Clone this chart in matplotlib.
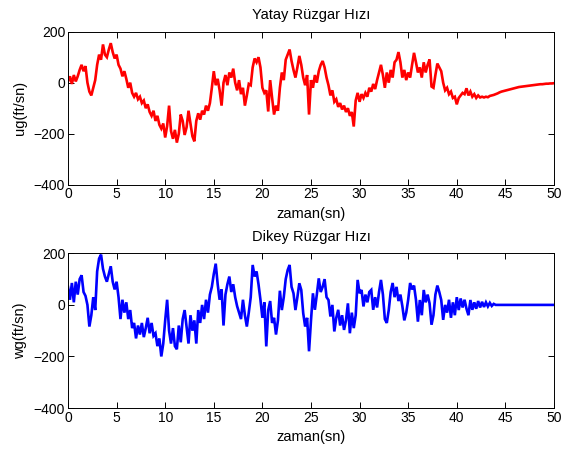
import numpy as np
import matplotlib.pyplot as plt

plt.rcParams['font.family'] = ['Liberation Sans', 'DejaVu Sans']

# wind speed samples every 0.2 s, 0..50 s
dt = 0.2

ug = [5, 25, -5, 30, 5, 25, 50, 70, 45, 65,
      0, -35, -50, -20, 10, 70, 110, 90, 150, 110,
      100, 130, 155, 120, 95, 110, 70, 55, 25, 45,
      15, -20, 0, -40, -55, -40, -65, -55, -80, -70,
      -100, -85, -115, -130, -110, -150, -130, -165, -180, -160,
      -215, -170, -90, -190, -220, -185, -235, -200, -125, -150,
      -205, -175, -110, -160, -210, -230, -150, -120, -145, -110,
      -125, -90, -110, -80, -20, 45, -10, 15, -30, -90,
      0, 30, -10, 40, 20, 55, 0, -30, 10, -45,
      -20, -90, -50, -5, -10, 60, 95, 80, 100, 60,
      -20, -40, -30, -113, 10, -60, -125, -90, -110, -20,
      40, 10, 90, 110, 130, 85, 50, 20, 60, 105,
      70, 20, -10, 30, -125, 10, -20, 30, 0, 45,
      70, 85, 60, 20, -10, -50, -30, -75, -65, -95,
      -80, -105, -90, -115, -100, -130, -115, -172, -70, -40,
      -75, -45, -60, -40, -55, -20, -35, -5, -25, 10,
      40, 70, 30, -20, 40, 0, 50, 20, 80, 90,
      120, 80, 20, 50, 10, 40, 20, 70, 117, 80,
      40, 60, 20, 80, 40, 70, 91, -15, -20, 30,
      75, 60, 45, 0, -30, -20, -45, -35, -60, -55,
      -85, -60, -50, -40, -45, -22, -50, -35, -55, -45,
      -60, -50, -58, -55, -58, -55, -57, -52, -50, -48,
      -45, -42, -38, -35, -33, -31, -29, -27, -25, -23,
      -21, -19, -17, -16, -15, -14, -13, -12, -11, -10,
      -9, -8, -7, -6, -6, -5, -4, -4, -3, -3,
      -2]

wg = [70, 20, 85, 10, 90, 40, 100, 115, 50, 35,
      0, -84, -40, 30, -20, 130, 180, 195, 140, 110,
      90, 120, 150, 90, 60, 90, 30, -55, 20, -30,
      10, -55, -20, -90, -70, -130, -80, -115, -70, -125,
      -90, -50, -110, -70, -120, -110, -160, -130, -200, -150,
      -60, 20, -100, -150, -90, -160, -172, -80, -145, -55,
      -20, -84, -150, -40, -100, -60, -150, -20, -70, 0,
      -55, 20, -30, 40, 70, 120, 160, 80, 20, 60,
      -80, 40, 80, 110, 50, 80, 30, -5, -30, -55,
      20, -40, -84, -30, 30, 155, 110, 130, 80, 20,
      -50, 10, -161, -20, 15, -70, -50, -115, -60, 55,
      -20, 30, 100, 135, 155, 70, 45, -20, 30, 84,
      58, -32, -84, -50, -180, -60, 45, -19, 40, 103,
      50, 70, 100, 30, 19, -45, 0, -103, -50, -19,
      -80, -40, -97, -60, 6, -110, -30, -90, -40, 97,
      45, 58, -6, 40, 10, 50, 58, -19, 30, -10,
      50, 97, 40, -55, -70, -20, 50, 85, 30, 70,
      15, 40, -5, -60, -30, 20, 85, 60, 75, 20,
      -65, 19, -40, 58, 10, 40, 6, -77, -40, 40,
      75, 50, 19, -58, 0, -30, 20, -50, 10, -40,
      30, -20, 25, -10, 20, -15, -40, 19, -19, 10,
      -15, 15, -10, 12, -8, 10, -6, 8, -4, 4,
      0, 0, 0, 0, 0, 0, 0, 0, 0, 0,
      0, 0, 0, 0, 0, 0, 0, 0, 0, 0,
      0, 0, 0, 0, 0, 0, 0, 0, 0, 0,
      0]

t = np.arange(len(ug)) * dt

panels = [
    (ug, 'r', 'Yatay Rüzgar Hızı', 'ug(ft/sn)', [0.1195, 0.5896, 0.8541, 0.3400]),
    (wg, 'b', 'Dikey Rüzgar Hızı', 'wg(ft/sn)', [0.1195, 0.0933, 0.8541, 0.3437]),
]

fig = plt.figure(figsize=(5.69, 4.5), dpi=100)
for vals, col, title, ylab, rect in panels:
    ax = fig.add_axes(rect)
    ax.plot(t, vals, color=col, linewidth=1.9, solid_joinstyle='miter')
    ax.set_xlim(0, 50)
    ax.set_ylim(-400, 200)
    ax.set_xticks(np.arange(0, 51, 5))
    ax.set_yticks([-400, -200, 0, 200])
    ax.tick_params(direction='in', top=True, right=True, length=4,
                   width=0.7, labelsize=10, pad=2)
    for s in ax.spines.values():
        s.set_linewidth(0.7)
    ax.set_title(title, fontsize=10.5, pad=9)
    ax.set_xlabel('zaman(sn)', fontsize=10.5, labelpad=4)
    ax.set_ylabel(ylab, fontsize=10.5, labelpad=5)

fig.savefig('out.png', dpi=100)
